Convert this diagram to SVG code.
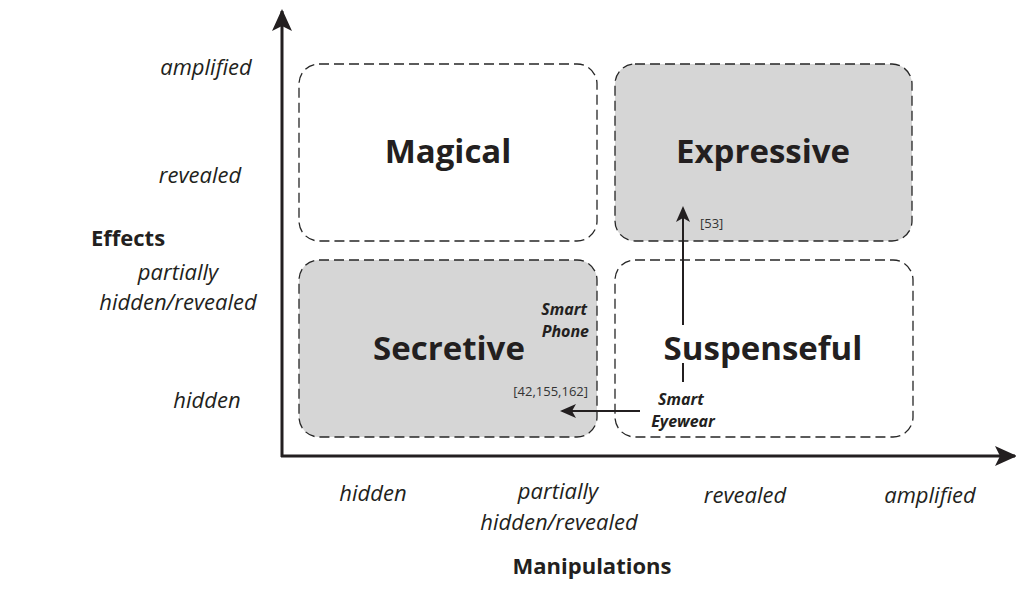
<svg xmlns="http://www.w3.org/2000/svg" width="1016" height="604" viewBox="0 0 1016 604">
  <style>
    .box { stroke: #262626; stroke-width: 1.3; stroke-dasharray: 10 5; }
    .plain { fill: #ffffff; }
    .shaded { fill: #d6d6d6; }
    .title { font-family: "Open Sans", "Liberation Sans", sans-serif; font-weight: bold; font-size: 33px; fill: #231f20; text-anchor: middle; }
    .tick { font-family: "Open Sans", "Liberation Sans", sans-serif; font-style: italic; font-size: 22px; fill: #231f20; text-anchor: middle; }
    .axis-name { font-family: "Open Sans", "Liberation Sans", sans-serif; font-weight: bold; font-size: 22px; fill: #231f20; text-anchor: middle; }
    .device { font-family: "Open Sans", "Liberation Sans", sans-serif; font-weight: bold; font-style: italic; font-size: 16px; fill: #231f20; }
    .ref { font-family: "Open Sans", "Liberation Sans", sans-serif; font-size: 13px; fill: #333333; }
    .axis { stroke: #231f20; stroke-width: 3; fill: none; }
    .link { stroke: #231f20; stroke-width: 2; fill: none; }
  </style>
  <defs>
    <marker id="bigHead" viewBox="0 0 22 22" refX="20" refY="11" markerWidth="22" markerHeight="22" markerUnits="userSpaceOnUse" orient="auto">
      <path d="M0,1 L22,11 L0,21 L5,11 Z" fill="#231f20"/>
    </marker>
    <marker id="smallHead" viewBox="0 0 16 16" refX="14" refY="8" markerWidth="16" markerHeight="16" markerUnits="userSpaceOnUse" orient="auto">
      <path d="M0,1 L16,8 L0,15 L4,8 Z" fill="#231f20"/>
    </marker>
  </defs>

  <!-- quadrants -->
  <g id="magical">
    <rect class="box plain" x="299" y="64" width="298" height="177" rx="20"/>
    <text class="title" x="448" y="163">Magical</text>
  </g>
  <g id="expressive">
    <rect class="box shaded" x="615" y="64" width="297" height="177" rx="20"/>
    <text class="title" x="763" y="163">Expressive</text>
  </g>
  <g id="secretive">
    <rect class="box shaded" x="299" y="260" width="298" height="177" rx="20"/>
    <text class="title" x="449" y="360">Secretive</text>
  </g>
  <g id="suspenseful">
    <rect class="box plain" x="615" y="260" width="298" height="177" rx="20"/>
    <text class="title" x="763" y="360">Suspenseful</text>
  </g>

  <!-- axes and transition arrows -->
  <g id="connectors">
    <line class="axis" x1="282" y1="457" x2="282" y2="11" marker-end="url(#bigHead)"/>
    <line class="axis" x1="281" y1="456" x2="1015" y2="456" marker-end="url(#bigHead)"/>
    <line class="link" x1="683" y1="382" x2="683" y2="363"/>
    <line class="link" x1="683" y1="325" x2="683" y2="208" marker-end="url(#smallHead)"/>
    <line class="link" x1="640" y1="411" x2="562" y2="411" marker-end="url(#smallHead)"/>
  </g>

  <!-- device and reference labels -->
  <g id="labels">
    <text class="ref" x="700" y="228">[53]</text>
    <text class="ref" x="588" y="396" text-anchor="end">[42,155,162]</text>
    <text class="device" x="587" y="315" text-anchor="end">Smart</text>
    <text class="device" x="589" y="337" text-anchor="end">Phone</text>
    <text class="device" x="681" y="405" text-anchor="middle">Smart</text>
    <text class="device" x="683" y="427" text-anchor="middle">Eyewear</text>
  </g>

  <!-- vertical axis scale -->
  <g id="effects-axis">
    <text class="tick" x="206" y="75">amplified</text>
    <text class="tick" x="200" y="183">revealed</text>
    <text class="tick" x="178" y="280">partially</text>
    <text class="tick" x="178" y="310">hidden/revealed</text>
    <text class="tick" x="207" y="408">hidden</text>
    <text class="axis-name" x="128" y="246">Effects</text>
  </g>

  <!-- horizontal axis scale -->
  <g id="manipulations-axis">
    <text class="tick" x="373" y="501">hidden</text>
    <text class="tick" x="558" y="499">partially</text>
    <text class="tick" x="559" y="530">hidden/revealed</text>
    <text class="tick" x="745" y="503">revealed</text>
    <text class="tick" x="930" y="503">amplified</text>
    <text class="axis-name" x="592" y="574">Manipulations</text>
  </g>
</svg>
